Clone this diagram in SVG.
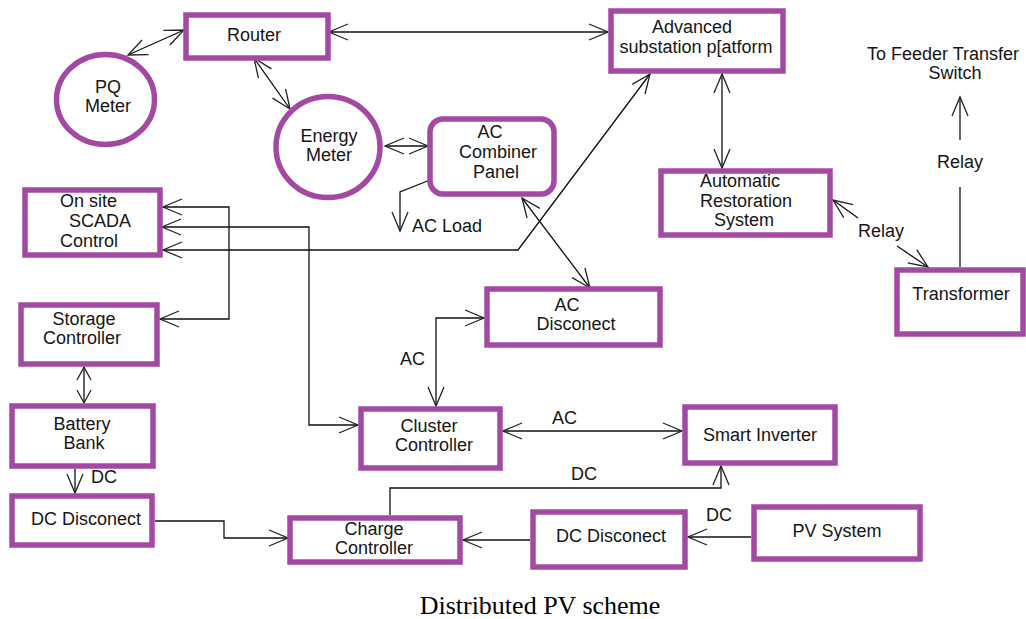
<svg xmlns="http://www.w3.org/2000/svg" width="1026" height="619" viewBox="0 0 1026 619">
<style>
.n{fill:#fff;stroke:#A349A4;stroke-width:5.5}
text{font-family:"Liberation Sans",Arial,sans-serif;font-size:18px;fill:#151515}
.m{text-anchor:middle}
.c line,.c polyline{fill:none;stroke:#111;stroke-width:1.3}
.cap{font-family:"Liberation Serif","Times New Roman",serif;font-size:26px;fill:#000}
</style>
<defs>
<marker id="a" markerUnits="userSpaceOnUse" markerWidth="24" markerHeight="24" viewBox="-20 -12 24 24" refX="0" refY="0" orient="auto-start-reverse" overflow="visible">
<path d="M-19,-8 L0,0 L-19,8" fill="none" stroke="#222" stroke-width="1.3"/>
</marker>
<marker id="s" markerUnits="userSpaceOnUse" markerWidth="24" markerHeight="24" viewBox="-20 -12 24 24" refX="0" refY="0" orient="auto-start-reverse" overflow="visible">
<path d="M-13,-7 L0,0 L-13,7" fill="none" stroke="#222" stroke-width="1.3"/>
</marker>
</defs>
<rect width="1026" height="619" fill="#fff"/>
<g class="c" id="connectors">
<line x1="128" y1="55" x2="184" y2="30" marker-start="url(#a)" marker-end="url(#a)"/>
<line x1="329" y1="32" x2="608" y2="32" marker-start="url(#a)" marker-end="url(#a)"/>
<line x1="254" y1="58" x2="290" y2="109" marker-start="url(#a)" marker-end="url(#a)"/>
<line x1="385" y1="146" x2="428" y2="146" marker-start="url(#a)" marker-end="url(#a)"/>
<polyline points="430,180 400,192 400,231" marker-end="url(#a)"/>
<line x1="522" y1="198" x2="590" y2="288" marker-start="url(#a)" marker-end="url(#a)"/>
<polyline points="163,250 518,250 650,74" marker-start="url(#a)" marker-end="url(#a)"/>
<polyline points="163,207 229,207 229,319 160,319" marker-start="url(#a)" marker-end="url(#a)"/>
<polyline points="162,227 309,227 309,425 358,425" marker-start="url(#a)" marker-end="url(#a)"/>
<line x1="84" y1="367" x2="84" y2="403" marker-start="url(#s)" marker-end="url(#s)"/>
<line x1="75" y1="469" x2="75" y2="493" marker-end="url(#a)"/>
<polyline points="155,521 224,521 224,538 288,538" marker-end="url(#a)"/>
<line x1="530" y1="540" x2="463" y2="540" marker-end="url(#a)"/>
<line x1="751" y1="537" x2="688" y2="537" marker-end="url(#a)"/>
<polyline points="390,515 390,488 721,488 721,466" marker-end="url(#a)"/>
<line x1="503" y1="431" x2="682" y2="431" marker-start="url(#a)" marker-end="url(#a)"/>
<polyline points="436,406 436,318 484,318" marker-start="url(#a)" marker-end="url(#a)"/>
<line x1="722" y1="74" x2="722" y2="168" marker-start="url(#a)" marker-end="url(#a)"/>
<line x1="833" y1="200" x2="858" y2="218" marker-start="url(#a)"/>
<line x1="897" y1="246" x2="928" y2="267" marker-end="url(#a)"/>
<line x1="960" y1="267" x2="960" y2="187"/>
<line x1="960" y1="140" x2="960" y2="97" marker-end="url(#a)"/>
<text x="412" y="232">AC Load</text>
<text x="400" y="365">AC</text>
<text x="552" y="424">AC</text>
<text x="571" y="480">DC</text>
<text x="91" y="483">DC</text>
<text x="706" y="521">DC</text>
<text x="881" y="237" class="m">Relay</text>
<text x="960" y="168" class="m">Relay</text>
</g>
<g id="router"><rect class="n" x="186" y="15" width="142" height="43"/><text x="254" y="41" class="m">Router</text></g>
<g id="pq-meter"><ellipse class="n" cx="105.5" cy="99.5" rx="49" ry="45"/><text x="108" y="93" class="m">PQ</text><text x="108" y="112" class="m">Meter</text></g>
<g id="energy-meter"><ellipse class="n" cx="328" cy="147" rx="52" ry="50.5"/><text x="329" y="142" class="m">Energy</text><text x="329" y="161" class="m">Meter</text></g>
<g id="ac-combiner"><rect class="n" x="430" y="119" width="124" height="75" rx="13"/><text x="490" y="138" class="m">AC</text><text x="498" y="158" class="m">Combiner</text><text x="496" y="178" class="m">Panel</text></g>
<g id="advanced-substation"><rect class="n" x="611" y="11" width="172" height="60"/><text x="692" y="33" class="m">Advanced</text><text x="696" y="53" class="m">substation p[atform</text></g>
<g id="ars"><rect class="n" x="661" y="171" width="169" height="64"/><text x="740" y="187" class="m">Automatic</text><text x="746" y="207" class="m">Restoration</text><text x="744" y="226" class="m">System</text></g>
<g id="feeder"><text x="867" y="60">To Feeder Transfer</text><text x="955" y="79" class="m">Switch</text></g>
<g id="transformer"><rect class="n" x="897" y="270" width="126" height="64"/><text x="961" y="300" class="m">Transformer</text></g>
<g id="scada"><rect class="n" x="25" y="190" width="135" height="65"/><text x="60" y="207">On site</text><text x="69" y="227">SCADA</text><text x="60" y="247">Control</text></g>
<g id="storage"><rect class="n" x="21" y="305" width="136" height="59"/><text x="84" y="325" class="m">Storage</text><text x="82" y="344" class="m">Controller</text></g>
<g id="battery"><rect class="n" x="12" y="406" width="141" height="60"/><text x="82" y="430" class="m">Battery</text><text x="84" y="449" class="m">Bank</text></g>
<g id="dc-disconnect-left"><rect class="n" x="12" y="496" width="140" height="49"/><text x="86" y="525" class="m">DC Disconect</text></g>
<g id="charge-controller"><rect class="n" x="290" y="518" width="170" height="44"/><text x="374" y="535" class="m">Charge</text><text x="374" y="554" class="m">Controller</text></g>
<g id="dc-disconnect-right"><rect class="n" x="533" y="512" width="152" height="55"/><text x="611" y="542" class="m">DC Disconect</text></g>
<g id="pv-system"><rect class="n" x="754" y="507" width="166" height="52"/><text x="837" y="537" class="m">PV System</text></g>
<g id="smart-inverter"><rect class="n" x="685" y="407" width="150" height="56"/><text x="760" y="441" class="m">Smart Inverter</text></g>
<g id="cluster-controller"><rect class="n" x="361" y="409" width="139" height="59"/><text x="429" y="432" class="m">Cluster</text><text x="434" y="451" class="m">Controller</text></g>
<g id="ac-disconnect"><rect class="n" x="487" y="289" width="173" height="56"/><text x="567" y="311" class="m">AC</text><text x="576" y="330" class="m">Disconect</text></g>
<text x="540" y="614" class="cap m">Distributed PV scheme</text>
</svg>
